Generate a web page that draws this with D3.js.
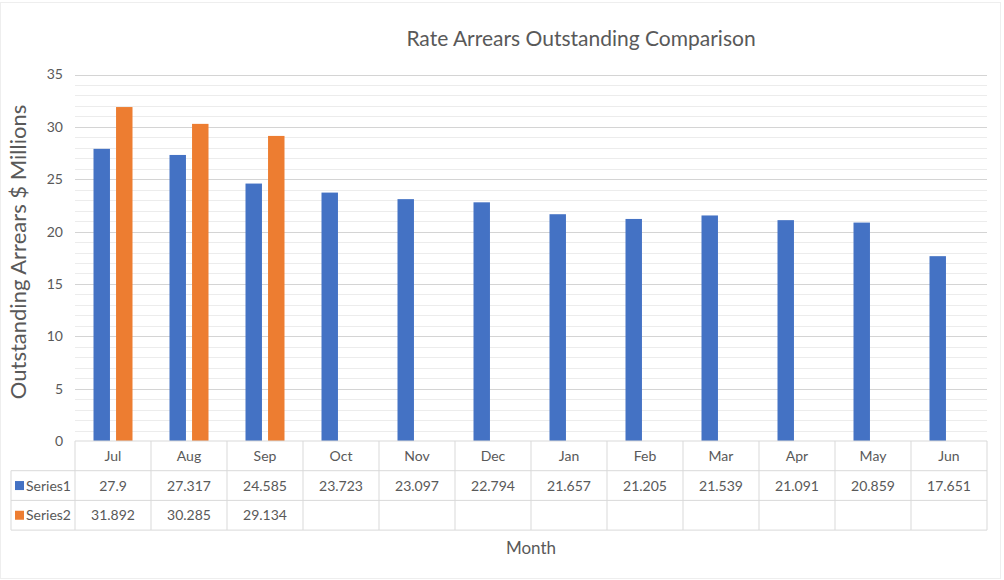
<!DOCTYPE html>
<html><head><meta charset="utf-8">
<script src="https://cdn.jsdelivr.net/npm/d3@7"></script>
<style>body{margin:0;background:#fff}svg{display:block}text{font-family:Lato,"Open Sans",sans-serif;fill:#595959}</style>
</head><body>
<svg id="c" width="1004" height="580"></svg>
<script>
const months = ["Jul","Aug","Sep","Oct","Nov","Dec","Jan","Feb","Mar","Apr","May","Jun"];
const seriesNames = ["Series1","Series2"];
const series1 = [27.9,27.317,24.585,23.723,23.097,22.794,21.657,21.205,21.539,21.091,20.859,17.651];
const series2 = [31.892,30.285,29.134,null,null,null,null,null,null,null,null,null];
const series1Labels = ["27.9","27.317","24.585","23.723","23.097","22.794","21.657","21.205","21.539","21.091","20.859","17.651"];
const series2Labels = ["31.892","30.285","29.134","","","","","","","","",""];
const yTicks = [0,5,10,15,20,25,30,35];
const colors = ["#4472C4","#ED7D31"];

const svg = d3.select("#c");
const L = 75, R = 987, T = 74.5, B = 441;
const x = d3.scaleBand().domain(months).range([L, R]).padding(0);
const x1 = d3.scaleBand().domain(seriesNames).range([18.5, 57.5]).paddingInner(0.27).paddingOuter(0);
const y = d3.scaleLinear().domain([0,35]).range([B, T]);

// frame
svg.append("rect").attr("x",0.5).attr("y",2.5).attr("width",1000).attr("height",576).attr("fill","none").attr("stroke","#eeeeee");

// minor grid
svg.append("g").selectAll("line").data(d3.range(0,36,1).filter(v=>v%5!==0)).join("line")
  .attr("x1",L).attr("x2",R).attr("y1",d=>Math.round(y(d))+0.5).attr("y2",d=>Math.round(y(d))+0.5)
  .attr("stroke","#ececec").attr("stroke-width",1);
// major grid
svg.append("g").selectAll("line").data(yTicks.filter(v=>v>0)).join("line")
  .attr("x1",L).attr("x2",R).attr("y1",d=>Math.round(y(d))+0.5).attr("y2",d=>Math.round(y(d))+0.5)
  .attr("stroke","#d4d4d4").attr("stroke-width",1.2);

// y axis
const yAxis = d3.axisLeft(y).tickValues(yTicks).tickSize(0).tickPadding(12);
const ya = svg.append("g").attr("transform",`translate(${L},0)`).call(yAxis);
ya.select(".domain").remove();
ya.selectAll("text").style("font-size","14px").style("fill","#595959").style("font-family","Lato, sans-serif");

// bars
const data = [series1, series2];
seriesNames.forEach((s,si)=>{
  svg.append("g").selectAll("rect").data(months.map((m,i)=>({m, v:data[si][i]})).filter(d=>d.v!=null)).join("rect")
    .attr("x",d=>x(d.m)+x1(s)).attr("width",x1.bandwidth())
    .attr("y",d=>y(d.v)).attr("height",d=>y(0)-y(d.v)).attr("fill",colors[si]);
});

// data table
const rowH = 29.7;
const tb = svg.append("g");
const lineC = "#d9d9d9";
[B, B+rowH, B+2*rowH, B+3*rowH].forEach((yy,i)=>{
  tb.append("line").attr("x1", i===0 ? L : 11).attr("x2",R).attr("y1",yy).attr("y2",yy).attr("stroke",lineC);
});
months.forEach(m=>{
  tb.append("line").attr("x1",x(m)).attr("x2",x(m)).attr("y1",B).attr("y2",B+3*rowH).attr("stroke",lineC);
});
tb.append("line").attr("x1",R).attr("x2",R).attr("y1",B).attr("y2",B+3*rowH).attr("stroke",lineC);
tb.append("line").attr("x1",11).attr("x2",11).attr("y1",B+rowH).attr("y2",B+3*rowH).attr("stroke",lineC);
tb.selectAll("text.h").data(months).join("text").attr("class","h")
  .attr("x",d=>x(d)+x.bandwidth()/2).attr("y",B+rowH/2+5).attr("text-anchor","middle")
  .style("font-size","14px").text(d=>d);
[series1Labels, series2Labels].forEach((labs,si)=>{
  tb.append("g").selectAll("text").data(labs).join("text")
    .attr("x",(d,i)=>x(months[i])+x.bandwidth()/2).attr("y",B+rowH*(si+1)+rowH/2+5).attr("text-anchor","middle")
    .style("font-size","14px").text(d=>d);
  tb.append("rect").attr("x",15).attr("y",B+rowH*(si+1)+rowH/2-4.5).attr("width",9).attr("height",9).attr("fill",colors[si]);
  tb.append("text").attr("x",26).attr("y",B+rowH*(si+1)+rowH/2+5).style("font-size","14px").text(seriesNames[si]);
});

// titles
svg.append("text").attr("x",581).attr("y",46).attr("text-anchor","middle").style("font-size","21px").text("Rate Arrears Outstanding Comparison");
svg.append("text").attr("x",531).attr("y",554).attr("text-anchor","middle").style("font-size","17px").text("Month");
svg.append("text").attr("transform","translate(26,252) rotate(-90)").attr("text-anchor","middle").style("font-size","22px").text("Outstanding Arrears $ Millions");
</script>
</body></html>
